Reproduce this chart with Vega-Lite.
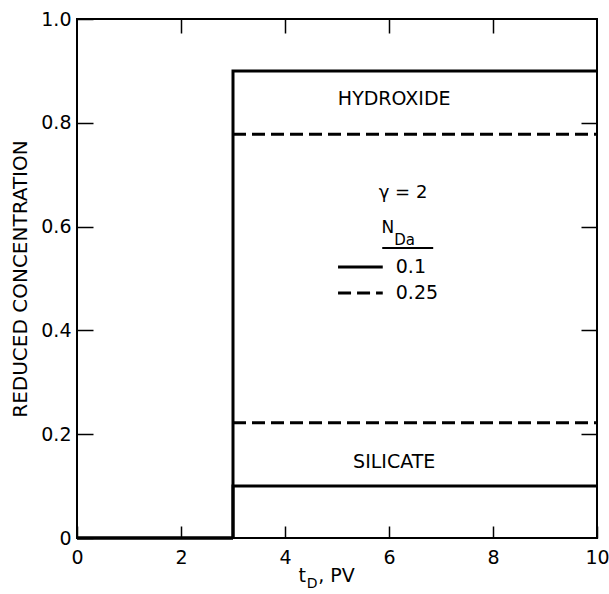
{
  "$schema": "https://vega.github.io/schema/vega-lite/v6.json",
  "width": 520,
  "height": 519,
  "autosize": {"type": "none"},
  "padding": {"left": 77, "top": 19, "right": 12, "bottom": 56},
  "background": "white",
  "config": {
    "view": {"stroke": "black", "strokeWidth": 2},
    "font": "DejaVu Sans",
    "axis": {"domain": false, "grid": false, "tickColor": "black", "tickWidth": 1.5, "labelColor": "black", "labelFont": "DejaVu Sans", "labelFontSize": 19, "titleFont": "DejaVu Sans", "titleColor": "black", "titleFontWeight": "normal"}
  },
  "datasets": {
    "lines": [
      {"curve": "hydroxide", "nda": "0.1", "order": 1, "t": 0, "c": 0},
      {"curve": "hydroxide", "nda": "0.1", "order": 2, "t": 3, "c": 0},
      {"curve": "hydroxide", "nda": "0.1", "order": 3, "t": 3, "c": 0.9},
      {"curve": "hydroxide", "nda": "0.1", "order": 4, "t": 10, "c": 0.9},
      {"curve": "silicate", "nda": "0.1", "order": 1, "t": 0, "c": 0},
      {"curve": "silicate", "nda": "0.1", "order": 2, "t": 3, "c": 0},
      {"curve": "silicate", "nda": "0.1", "order": 3, "t": 3, "c": 0.1},
      {"curve": "silicate", "nda": "0.1", "order": 4, "t": 10, "c": 0.1},
      {"curve": "hydroxide", "nda": "0.25", "order": 1, "t": 3, "c": 0.778},
      {"curve": "hydroxide", "nda": "0.25", "order": 2, "t": 10, "c": 0.778},
      {"curve": "silicate", "nda": "0.25", "order": 1, "t": 3, "c": 0.222},
      {"curve": "silicate", "nda": "0.25", "order": 2, "t": 10, "c": 0.222}
    ],
    "keys": [
      {"nda": "0.1", "x1": 5.02, "x2": 5.88, "y": 0.522},
      {"nda": "0.25", "x1": 5.02, "x2": 5.88, "y": 0.472}
    ],
    "underline": [
      {"x1": 5.87, "x2": 6.85, "y": 0.559}
    ],
    "labels": [
      {"text": "HYDROXIDE", "x": 6.1, "y": 0.846, "size": 19},
      {"text": "SILICATE", "x": 6.1, "y": 0.146, "size": 19},
      {"text": "γ = 2", "x": 6.27, "y": 0.665, "size": 18},
      {"text": "N", "x": 5.98, "y": 0.598, "size": 17},
      {"text": "Da", "x": 6.3, "y": 0.574, "size": 15},
      {"text": "t", "x": 4.33, "y": -0.073, "size": 19},
      {"text": "D", "x": 4.52, "y": -0.088, "size": 14}
    ],
    "leftlabels": [
      {"text": "0.1", "x": 6.13, "y": 0.522, "size": 19},
      {"text": "0.25", "x": 6.13, "y": 0.472, "size": 19},
      {"text": ",  PV", "x": 4.64, "y": -0.073, "size": 19}
    ]
  },
  "layer": [
    {
      "data": {"name": "lines"},
      "mark": {"type": "line", "color": "black", "strokeWidth": 3, "clip": false},
      "encoding": {
        "x": {"field": "t", "type": "quantitative", "scale": {"domain": [0, 10], "nice": false},
          "axis": {"orient": "bottom", "values": [0, 2, 4, 6, 8, 10], "tickSize": -12, "labelPadding": 22, "title": null, "labelFlush": false}},
        "y": {"field": "c", "type": "quantitative", "scale": {"domain": [0, 1], "nice": false},
          "axis": {"orient": "left", "values": [0, 0.2, 0.4, 0.6, 0.8, 1], "tickSize": -16, "labelPadding": 22, "labelExpr": "datum.value == 0 ? '0' : format(datum.value, '.1f')", "title": "REDUCED   CONCENTRATION", "titleFontSize": 20, "titlePadding": 10, "labelFlush": false}},
        "detail": {"field": "curve"},
        "order": {"field": "order", "type": "quantitative"},
        "strokeDash": {"field": "nda", "type": "nominal", "scale": {"domain": ["0.1", "0.25"], "range": [[1, 0], [13, 6]]}, "legend": null}
      }
    },
    {
      "data": {"name": "keys"},
      "mark": {"type": "rule", "color": "black", "strokeWidth": 3},
      "encoding": {
        "x": {"field": "x1", "type": "quantitative", "axis": {"orient": "top", "values": [2, 4, 6, 8], "tickSize": -14, "labels": false, "title": null}},
        "x2": {"field": "x2"},
        "y": {"field": "y", "type": "quantitative", "axis": {"orient": "right", "values": [0.2, 0.4, 0.6, 0.8], "tickSize": -16, "labels": false, "title": null}},
        "strokeDash": {"field": "nda", "type": "nominal", "scale": {"domain": ["0.1", "0.25"], "range": [[1, 0], [13, 6]]}, "legend": null}
      }
    },
    {
      "data": {"name": "underline"},
      "mark": {"type": "rule", "color": "black", "strokeWidth": 2},
      "encoding": {
        "x": {"field": "x1", "type": "quantitative", "axis": null},
        "x2": {"field": "x2"},
        "y": {"field": "y", "type": "quantitative", "axis": null}
      }
    },
    {
      "data": {"name": "labels"},
      "mark": {"type": "text", "color": "black", "font": "DejaVu Sans", "baseline": "middle", "align": "center", "clip": false},
      "encoding": {
        "x": {"field": "x", "type": "quantitative", "axis": null},
        "y": {"field": "y", "type": "quantitative", "axis": null},
        "text": {"field": "text"},
        "size": {"field": "size", "type": "quantitative", "scale": null}
      }
    },
    {
      "data": {"name": "leftlabels"},
      "mark": {"type": "text", "color": "black", "font": "DejaVu Sans", "baseline": "middle", "align": "left", "clip": false},
      "encoding": {
        "x": {"field": "x", "type": "quantitative", "axis": null},
        "y": {"field": "y", "type": "quantitative", "axis": null},
        "text": {"field": "text"},
        "size": {"field": "size", "type": "quantitative", "scale": null}
      }
    }
  ],
  "resolve": {"axis": {"x": "independent", "y": "independent"}}
}
